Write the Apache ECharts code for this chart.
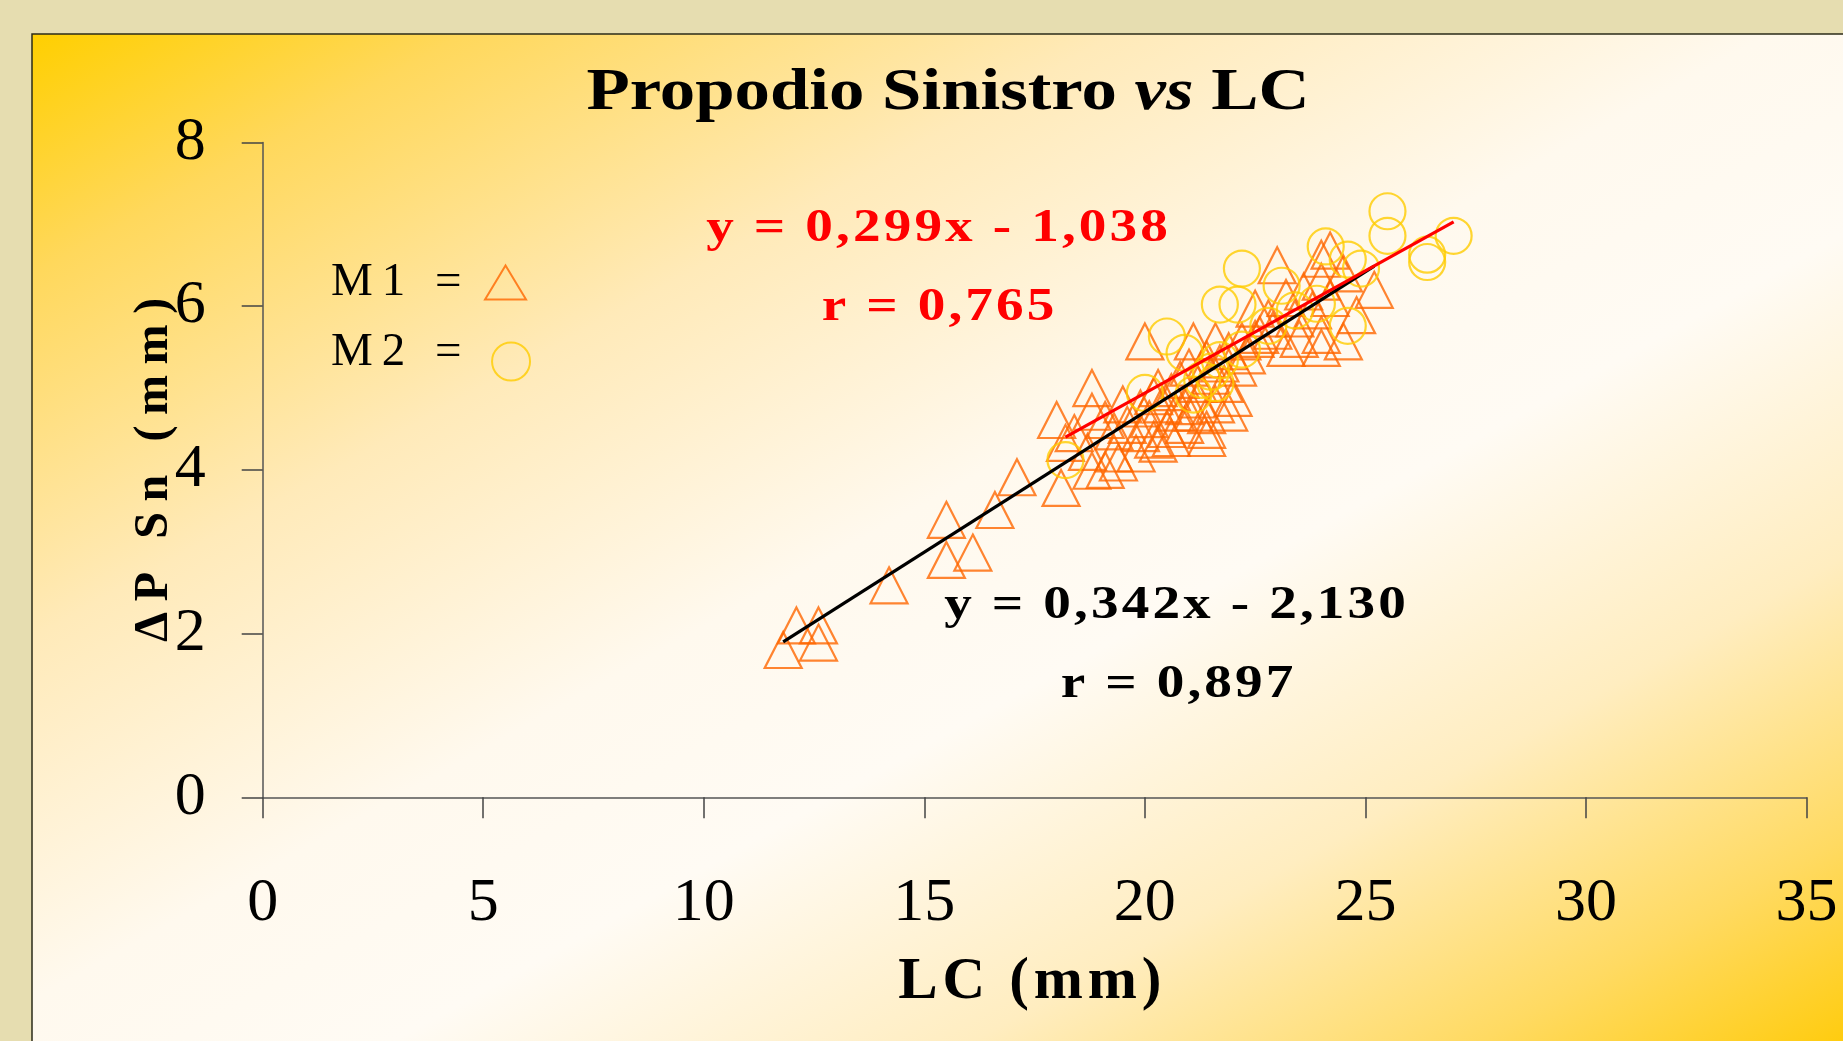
<!DOCTYPE html>
<html>
<head>
<meta charset="utf-8">
<script src="https://cdn.jsdelivr.net/npm/echarts@6/dist/echarts.min.js"></script>
<style>
html,body{margin:0;padding:0;background:#E6DDB0;}
#c{width:1843px;height:1041px;}
</style>
</head>
<body>
<div id="c"></div>
<script>
// ---- data ----
const xTickValues = [0, 5, 10, 15, 20, 25, 30, 35];
const yTickValues = [0, 2, 4, 6, 8];

const m1Points = [
  [11.8,1.80],[12.1,2.10],[12.6,2.10],[12.6,1.89],[14.2,2.59],[15.5,3.39],[15.5,2.90],[16.1,2.99],[16.6,3.51],[17.1,3.91],
  [18.0,4.61],[18.1,3.78],[18.2,4.33],[18.8,3.99],[18.8,5.00],[18.8,4.71],[18.7,4.22],[19.1,4.61],[19.1,4.00],[19.3,4.47],
  [19.4,4.09],[19.3,4.20],[18.4,4.45],[19.6,4.55],[19.5,4.80],
  [19.8,4.20],[19.9,4.45],[19.9,4.75],[20.0,5.57],[20.1,4.62],[20.2,4.37],[20.3,4.32],[20.3,5.00],[20.2,4.90],[20.4,4.80],
  [20.5,4.50],[20.6,4.39],[20.6,4.95],[20.7,4.70],[20.8,5.10],[20.9,4.55],[20.9,4.78],[21.0,5.25],[21.1,5.57],[21.1,4.70],
  [21.2,5.05],[21.2,4.86],[21.4,4.49],[21.4,4.39],[21.4,5.35],[21.4,4.67],[21.5,5.15],[21.6,5.57],[21.6,4.80],[21.7,5.30],
  [21.8,5.05],[21.9,5.45],[21.9,4.70],[22.0,4.88],[22.1,5.25],[22.2,5.57],[22.3,5.40],[22.5,5.60],[22.5,5.97],
  [22.6,5.65],[22.8,5.85],[22.9,5.70],[23.0,6.50],[23.2,6.10],[23.2,5.49],[23.4,5.85],[23.5,5.60],[23.6,6.18],[23.8,5.95],
  [24.0,5.65],[24.0,6.58],[24.0,5.49],[24.0,6.30],[24.2,6.68],[24.2,6.10],[24.5,6.40],[24.5,5.57],[24.8,5.89],[25.2,6.20]
];

const m2Points = [
  [18.2,4.12],[20.0,4.94],[20.5,5.63],[20.9,5.43],[21.1,4.92],[21.3,5.10],[21.5,5.20],[21.6,5.06],[21.7,5.34],[21.7,6.02],
  [22.1,6.02],[22.2,5.47],[22.2,6.46],[22.8,5.76],[23.1,6.25],[23.4,5.95],[23.9,6.03],[24.1,6.73],[24.6,6.57],[24.6,5.76],
  [24.9,6.46],[25.5,7.16],[25.5,6.86],[26.4,6.63],[26.4,6.54],[27.0,6.86]
];

const blackTrend = [[11.8, 1.90], [25.2, 6.49]];
const redTrend = [[18.2, 4.40], [27.0, 7.03]];

const seriesNames = ['M1', 'M2'];
const titleMain = 'Propodio Sinistro ';
const titleItalic = 'vs';
const titleEnd = ' LC';
const xName = 'LC (mm)';
const yName = '\u0394P Sn (mm)';
const eqRed = ['y = 0,299x - 1,038', 'r = 0,765'];
const eqBlack = ['y = 0,342x - 2,130', 'r = 0,897'];

// ---- helpers ----
const SERIF = '"Liberation Serif", "Times New Roman", serif';
function sp(str, style) {
  return Array.from(str).map(c => '{' + style + '|' + c + '}').join('');
}

const chart = echarts.init(document.getElementById('c'), null, {renderer: 'canvas'});

const bgGradient = new echarts.graphic.LinearGradient(32, 34, 887, 1572, [
  {offset: 0, color: '#FFCF00'},
  {offset: 0.12, color: '#FFD85C'},
  {offset: 0.3, color: '#FFEAB9'},
  {offset: 0.48, color: '#FFF9EE'},
  {offset: 0.6, color: '#FFFBF4'},
  {offset: 0.76, color: '#FFEDC0'},
  {offset: 0.9, color: '#FFDA62'},
  {offset: 1, color: '#FFCC10'}
], true);

function eqText(str, x, y, style) {
  return {
    type: 'text', x: x, y: y, z: 100, scaleX: 1.2, silent: true,
    style: {
      text: sp(str, style),
      align: 'center', verticalAlign: 'middle',
      textAlign: 'center', textVerticalAlign: 'middle',
      rich: {
        er: {fontFamily: SERIF, fontSize: 46, fontWeight: 'bold', color: '#FF0000', fill: '#FF0000', padding: [0, 1.3, 0, 1.3]},
        eb: {fontFamily: SERIF, fontSize: 46, fontWeight: 'bold', color: '#000', fill: '#000', padding: [0, 1.3, 0, 1.3]}
      }
    }
  };
}

const titleText = {
  type: 'text', x: 948, y: 94, z: 100, scaleX: 1.2, silent: true,
  style: {
    text: '{t|' + titleMain + '}{ti|' + titleItalic + '}{t|' + titleEnd + '}',
    align: 'center', verticalAlign: 'middle',
    textAlign: 'center', textVerticalAlign: 'middle',
    rich: {
      t: {fontFamily: SERIF, fontSize: 59, fontWeight: 'bold', color: '#000', fill: '#000'},
      ti: {fontFamily: SERIF, fontSize: 59, fontWeight: 'bold', fontStyle: 'italic', color: '#000', fill: '#000'}
    }
  }
};

const option = {
  animation: false,
  backgroundColor: '#E6DDB0',
  graphic: {
    elements: [
      {
        type: 'rect', z: -10, silent: true,
        shape: {x: 32, y: 34, width: 1840, height: 1040},
        style: {fill: bgGradient, stroke: '#2b2b18', lineWidth: 1.5}
      },
      titleText,
      eqText(eqRed[0], 937, 229, 'er'),
      eqText(eqRed[1], 938, 308, 'er'),
      eqText(eqBlack[0], 1175, 606, 'eb'),
      eqText(eqBlack[1], 1177, 685, 'eb')
    ]
  },
  legend: [
    {
      data: [seriesNames[0]],
      orient: 'vertical', align: 'right',
      left: 331, top: 259, padding: 0,
      itemWidth: 41, itemHeight: 34,
      selectedMode: false,
      formatter: function (name) { return sp(name + ' =', 'l') + '{g| }'; },
      textStyle: {
        rich: {
          l: {fontFamily: SERIF, fontSize: 47, color: '#000', padding: [0, 4.5, 0, 4.5]},
          g: {fontFamily: SERIF, fontSize: 47, width: 14}
        }
      }
    },
    {
      data: [seriesNames[1]],
      orient: 'vertical', align: 'right',
      left: 331, top: 329, padding: 0,
      itemWidth: 38, itemHeight: 38,
      selectedMode: false,
      formatter: function (name) { return sp(name + ' =', 'l') + '{g| }'; },
      textStyle: {
        rich: {
          l: {fontFamily: SERIF, fontSize: 47, color: '#000', padding: [0, 4.5, 18, 4.5]},
          g: {fontFamily: SERIF, fontSize: 47, width: 21, padding: [0, 0, 18, 0]}
        }
      }
    }
  ],
  grid: {left: 262.7, top: 142.5, width: 1543.8, height: 654.8, containLabel: false},
  xAxis: {
    type: 'value',
    min: xTickValues[0], max: xTickValues[xTickValues.length - 1],
    interval: xTickValues[1] - xTickValues[0],
    name: sp(xName.slice(0, -1), 'n') + '{nr|' + xName.slice(-1) + '}',
    nameLocation: 'middle', nameGap: 156,
    nameTextStyle: {
      rich: {
        n: {fontFamily: SERIF, fontSize: 59, fontWeight: 'bold', color: '#000', padding: [0, 2.4, 0, 2.4]},
        nr: {fontFamily: SERIF, fontSize: 59, fontWeight: 'bold', color: '#000', padding: [0, 12, 0, 2.4]}
      }
    },
    axisLine: {show: true, onZero: false, lineStyle: {color: '#555', width: 1.5}},
    axisTick: {show: true, inside: false, length: 21, lineStyle: {color: '#444', width: 1.5}},
    axisLabel: {fontFamily: SERIF, fontSize: 62, color: '#000', margin: 75},
    splitLine: {show: false}
  },
  yAxis: {
    type: 'value',
    min: yTickValues[0], max: yTickValues[yTickValues.length - 1],
    interval: yTickValues[1] - yTickValues[0],
    name: sp(yName, 'n'),
    nameLocation: 'middle', nameGap: 84, nameRotate: 90,
    nameMoveOverlap: false,
    nameTextStyle: {
      rich: {n: {fontFamily: SERIF, fontSize: 48, fontWeight: 'bold', color: '#000', padding: [0, 5.3, 0, 5.3]}}
    },
    axisLine: {show: true, onZero: false, lineStyle: {color: '#555', width: 1.5}},
    axisTick: {show: true, inside: false, length: 21, lineStyle: {color: '#444', width: 1.5}},
    axisLabel: {fontFamily: SERIF, fontSize: 62, color: '#000', margin: 57},
    splitLine: {show: false}
  },
  series: [
    {
      name: seriesNames[0], type: 'scatter', data: m1Points,
      symbol: 'triangle', symbolSize: [37, 36], z: 2,
      itemStyle: {color: 'rgba(0,0,0,0)', borderColor: '#FF6600', borderWidth: 2.2},
      emphasis: {disabled: true}
    },
    {
      name: seriesNames[1], type: 'scatter', data: m2Points,
      symbol: 'circle', symbolSize: 36, z: 3,
      itemStyle: {color: 'rgba(0,0,0,0)', borderColor: '#FFCC00', borderWidth: 2.2},
      emphasis: {disabled: true}
    },
    {
      name: 'trendM1', type: 'line', data: blackTrend, symbol: 'none', z: 4,
      lineStyle: {color: '#000', width: 3.2}, emphasis: {disabled: true}
    },
    {
      name: 'trendM2', type: 'line', data: redTrend, symbol: 'none', z: 5,
      lineStyle: {color: '#FF0000', width: 3.2}, emphasis: {disabled: true}
    }
  ]
};
chart.setOption(option);
</script>
</body>
</html>
